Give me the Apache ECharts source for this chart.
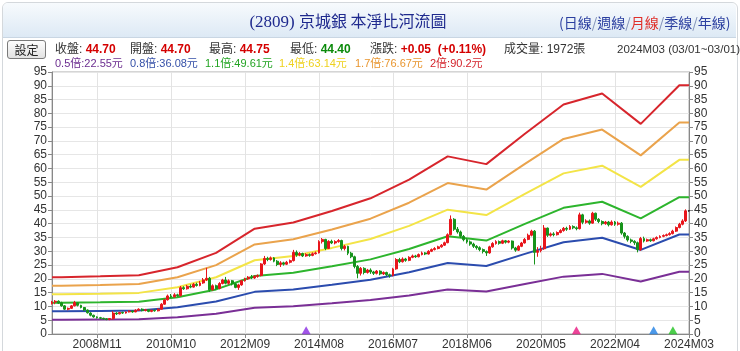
<!DOCTYPE html>
<html>
<head>
<meta charset="utf-8">
<script src="https://cdn.jsdelivr.net/npm/echarts@6/dist/echarts.min.js"></script>
<style>
body { margin: 0; background: #fff; font-family: "Liberation Sans", "Noto Sans CJK TC", sans-serif; }
#wrap { position: relative; width: 740px; height: 351px; overflow: hidden; }
#frame { position: absolute; left: 2px; top: 2px; width: 734px; height: 360px; border: 1px solid #d4d8dc; border-radius: 6px 6px 0 0; }
#head { position: absolute; left: 3px; top: 3px; width: 733px; height: 34px; border-bottom: 1px solid #c9d6e3;
    border-radius: 5px 5px 0 0; background: linear-gradient(#f7fafd, #dde9f5); }
#title { position: absolute; left: 0; width: 696px; top: 9px; text-align: center; font-size: 17px; line-height: 22px; color: #1f2a8e;
    font-family: "Liberation Serif", "Noto Sans CJK TC", serif; white-space: nowrap; }
#title .cjk { font-family: "Noto Sans CJK TC", sans-serif; font-size: 16px; }
#links { position: absolute; left: 556px; top: 9px; font-size: 14px; color: #2b3fa0; white-space: nowrap; font-family: "Noto Sans CJK TC", sans-serif; }
#links .cur { color: #e0302a; }
#links .sep { color: #8090b8; }
#btn { position: absolute; left: 7px; top: 40px; width: 37px; height: 17px; border: 1px solid #7a7a7a; border-radius: 3px;
    background: linear-gradient(#fdfdfd, #e2e2e2); font-size: 12px; line-height: 17px; text-align: center; color: #222; font-family: "Noto Sans CJK TC", sans-serif; }
.q { position: absolute; top: 41px; font-size: 12px; line-height: 16px; color: #333; white-space: nowrap; }
.q b { color: #d40000; }
.q b.dn { color: #0a8a0a; }
.lg { position: absolute; top: 56px; font-size: 11px; line-height: 14px; white-space: nowrap; }
#main { position: absolute; left: 0; top: 0; width: 740px; height: 351px; }
</style>
</head>
<body>
<div id="wrap">
    <div id="main"></div>
    <div id="frame"></div>
    <div id="head">
        <div id="links">(日線<span class="sep">/</span>週線<span class="sep">/</span><span class="cur">月線</span><span class="sep">/</span>季線<span class="sep">/</span>年線)</div>
    </div>
    <div id="title">(2809) <span class="cjk">京城銀 本淨比河流圖</span></div>
    <div id="btn">設定</div>
    <div class="q" style="left:55px">收盤: <b>44.70</b></div>
    <div class="q" style="left:130px">開盤: <b>44.70</b></div>
    <div class="q" style="left:209px">最高: <b>44.75</b></div>
    <div class="q" style="left:290px">最低: <b class="dn">44.40</b></div>
    <div class="q" style="left:370px">漲跌: <b>+0.05&nbsp; (+0.11%)</b></div>
    <div class="q" style="left:504px">成交量: 1972張</div>
    <div class="q" style="left:617px;font-size:11.5px">2024M03 (03/01~03/01)</div>
    <div id="legend"></div>
</div>
<script>
// monthly candles, 2007M09 .. 2024M03
const startYear = 2007, startMonth = 9, monthCount = 199;

const opens = [
    11.0, 11.6, 11.9, 11.3,
    10.2, 9.0, 9.3, 10.2, 11.3, 10.4, 9.6, 8.7, 7.6, 6.8, 6.2, 5.9,
    5.7, 5.5, 5.3, 5.6, 7.6, 7.3, 7.8, 7.6, 8.0, 8.3, 8.0, 8.6,
    9.0, 8.5, 8.8, 8.2, 8.6, 8.4, 9.0, 10.8, 12.4, 13.8, 13.5, 14.2,
    13.9, 16.8, 16.4, 17.3, 17.0, 18.0, 17.6, 18.5, 19.6, 20.2, 16.0, 17.5,
    16.5, 18.3, 19.6, 18.4, 19.3, 18.2, 16.9, 17.8, 19.3, 20.0, 20.6, 20.3,
    20.9, 21.2, 25.4, 27.4, 27.0, 27.6, 26.4, 25.2, 25.8, 25.3, 26.0, 26.6,
    29.6, 28.6, 29.2, 28.3, 28.8, 28.5, 29.1, 29.4, 33.5, 34.3, 31.0, 33.6,
    33.0, 33.5, 33.9, 31.0, 31.8, 29.3, 28.0, 24.5, 22.0, 23.8, 22.3, 23.2,
    22.5, 22.0, 22.8, 21.8, 22.3, 21.5, 21.2, 23.6, 27.0, 26.2, 27.2, 26.7,
    27.8, 28.3, 28.0, 28.8, 29.4, 29.0, 30.0, 30.6, 31.0, 31.6, 32.2, 33.1,
    36.0, 41.6, 38.0, 37.0, 35.4, 34.2, 33.4, 32.6, 31.8, 31.3, 30.6, 29.9,
    29.4, 31.6, 32.8, 33.5, 32.9, 33.8, 33.3, 33.7, 31.2, 30.4, 31.8, 33.0,
    34.3, 35.8, 37.3, 29.6, 30.2, 30.9, 38.4, 35.8, 36.3, 36.0, 36.8, 37.5,
    38.3, 38.0, 39.0, 38.5, 38.2, 43.2, 40.5, 41.0, 40.2, 43.8, 41.6, 40.8,
    40.0, 40.6, 39.6, 40.6, 39.8, 40.2, 36.6, 35.4, 34.1, 33.6, 33.1, 30.6,
    34.6, 33.7, 34.2, 33.8, 34.5, 35.0, 35.4, 35.7, 36.0, 36.4, 37.3, 38.6,
    39.8, 41.0, 44.7
];
const closes = [
    11.6, 11.9, 11.2, 10.2,
    9.0, 9.3, 10.2, 11.4, 10.4, 9.6, 8.7, 7.7, 6.8, 6.2, 5.9, 5.7,
    5.5, 5.3, 5.6, 7.6, 7.3, 7.8, 7.6, 8.0, 8.3, 8.0, 8.6, 9.0,
    8.5, 8.8, 8.2, 8.6, 8.4, 9.0, 10.8, 12.4, 13.8, 13.5, 14.2, 13.9,
    16.8, 16.4, 17.3, 17.0, 18.0, 17.6, 18.5, 19.6, 20.2, 16.0, 17.5, 16.5,
    18.3, 19.6, 18.4, 19.3, 18.2, 16.9, 17.8, 19.3, 20.0, 20.6, 20.3, 20.9,
    21.2, 25.4, 27.4, 27.0, 27.6, 26.4, 25.2, 25.8, 25.3, 26.0, 26.6, 29.6,
    28.6, 29.2, 28.3, 28.8, 28.5, 29.1, 29.4, 33.5, 34.3, 31.0, 33.6, 33.0,
    33.5, 33.9, 31.0, 31.8, 29.3, 28.0, 24.5, 22.0, 23.8, 22.3, 23.2, 22.5,
    22.0, 22.8, 21.8, 22.3, 21.5, 21.2, 23.6, 27.0, 26.2, 27.2, 26.7, 27.8,
    28.3, 28.0, 28.8, 29.4, 29.0, 30.0, 30.6, 31.0, 31.6, 32.2, 33.1, 36.0,
    41.6, 38.0, 37.0, 35.4, 34.2, 33.4, 32.6, 31.8, 31.3, 30.6, 29.9, 29.4,
    31.6, 32.8, 33.5, 32.9, 33.8, 33.3, 33.7, 31.2, 30.4, 31.8, 33.0, 34.3,
    35.8, 37.3, 29.6, 30.2, 30.9, 38.4, 35.8, 36.3, 36.0, 36.8, 37.5, 38.3,
    38.0, 39.0, 38.5, 38.2, 43.2, 40.5, 41.0, 40.2, 43.8, 41.6, 40.8, 40.0,
    40.6, 39.6, 40.6, 39.8, 40.2, 36.6, 35.4, 34.1, 33.6, 33.1, 30.6, 34.6,
    33.7, 34.2, 33.8, 34.5, 35.0, 35.4, 35.7, 36.0, 36.4, 37.3, 38.6, 39.8,
    41.0, 44.65, 44.7
];
const lows = [
    10.7, 10.8, 10.9, 9.9,
    8.7, 8.6, 9.1, 10.0, 10.0, 9.3, 8.4, 7.4, 6.4, 5.9, 5.6, 5.4,
    5.2, 5.0, 5.0, 5.1, 6.9, 7.1, 7.3, 7.4, 7.8, 7.7, 7.9, 8.4,
    8.2, 8.2, 7.9, 7.9, 8.1, 8.2, 8.9, 10.6, 12.1, 13.1, 13.2, 13.5,
    13.6, 16.0, 16.1, 16.6, 16.8, 17.2, 17.3, 18.2, 19.2, 15.3, 15.8, 16.0,
    16.2, 18.0, 18.0, 17.9, 17.6, 16.6, 16.0, 17.5, 19.0, 19.6, 19.9, 20.0,
    20.4, 20.9, 25.0, 26.4, 26.6, 26.0, 24.6, 24.3, 24.8, 25.0, 25.6, 26.3,
    28.0, 28.2, 27.9, 28.0, 28.0, 28.2, 28.8, 29.2, 32.8, 30.4, 30.8, 32.6,
    32.5, 33.1, 30.3, 30.3, 28.6, 27.5, 23.8, 20.2, 21.2, 21.6, 21.9, 21.8,
    21.4, 21.6, 21.3, 21.4, 20.9, 20.4, 20.9, 23.3, 25.7, 25.9, 26.2, 26.4,
    27.5, 27.6, 27.8, 28.5, 28.6, 28.8, 29.7, 30.3, 30.7, 31.3, 31.9, 32.9,
    35.8, 37.4, 36.4, 34.8, 33.6, 32.8, 32.0, 31.2, 30.6, 30.0, 29.2, 28.3,
    29.1, 31.3, 32.4, 32.4, 32.6, 32.8, 32.9, 30.6, 29.8, 30.1, 31.5, 32.8,
    34.0, 35.4, 25.2, 28.0, 29.6, 30.5, 35.2, 35.3, 35.4, 35.7, 36.5, 37.1,
    37.4, 37.7, 38.0, 37.6, 37.9, 39.8, 40.0, 39.6, 40.0, 41.0, 40.2, 39.4,
    39.6, 39.0, 39.3, 39.2, 39.3, 36.0, 34.6, 33.5, 32.9, 32.3, 29.6, 30.2,
    33.2, 33.4, 33.4, 33.6, 34.2, 34.7, 35.1, 35.4, 35.7, 36.1, 37.0, 38.3,
    39.4, 40.6, 44.4
];
const highs = [
    12.0, 12.3, 12.2, 11.7,
    10.5, 9.6, 10.5, 12.0, 11.6, 10.6, 9.8, 8.9, 7.9, 7.0, 6.4, 6.2,
    5.9, 5.7, 5.8, 8.3, 7.9, 8.0, 8.1, 8.2, 8.6, 8.5, 9.0, 9.3,
    9.3, 9.1, 9.0, 8.8, 8.9, 9.3, 11.2, 12.8, 14.3, 14.5, 14.8, 14.6,
    17.4, 17.3, 17.8, 18.0, 18.5, 18.6, 19.2, 20.3, 24.0, 20.7, 18.0, 17.9,
    18.8, 20.0, 20.7, 19.8, 19.6, 18.5, 18.2, 19.6, 20.4, 21.0, 21.4, 21.3,
    21.6, 25.7, 28.3, 28.0, 28.1, 27.9, 26.8, 26.4, 26.2, 26.5, 27.0, 30.5,
    30.3, 29.7, 29.5, 29.3, 29.2, 29.6, 29.9, 34.0, 34.8, 34.5, 34.0, 34.2,
    34.0, 34.4, 34.2, 32.3, 32.0, 29.8, 28.4, 25.0, 24.3, 24.2, 23.6, 23.8,
    22.9, 23.2, 23.1, 22.7, 22.6, 21.9, 24.0, 27.5, 27.6, 27.8, 27.6, 28.2,
    28.8, 28.7, 29.2, 29.9, 29.7, 30.4, 31.0, 31.5, 32.0, 32.6, 33.5, 36.5,
    43.0, 42.0, 38.8, 37.5, 35.9, 34.7, 33.9, 33.1, 32.2, 31.8, 31.0, 30.3,
    32.0, 33.3, 34.0, 33.9, 34.2, 34.1, 34.0, 33.9, 31.6, 32.2, 33.4, 34.8,
    36.4, 37.8, 37.7, 31.5, 32.0, 39.5, 38.6, 36.8, 36.9, 37.2, 38.0, 38.8,
    38.9, 39.5, 39.4, 39.0, 44.0, 43.6, 41.6, 41.5, 44.3, 44.0, 42.0, 41.2,
    41.0, 41.0, 41.2, 41.0, 40.8, 40.6, 37.0, 35.8, 34.6, 34.0, 33.5, 35.2,
    35.3, 34.6, 34.6, 34.9, 35.4, 35.8, 36.1, 36.4, 36.9, 37.8, 39.0, 40.3,
    41.6, 45.2, 44.75
];

// book value per share at year ends (river vertices)
const bvpsMonths = ['2007M09', '2007M12', '2008M12', '2009M12', '2010M12', '2011M12', '2012M12', '2013M12', '2014M12',
    '2015M12', '2016M12', '2017M12', '2018M12', '2019M12', '2020M12', '2021M12', '2022M12', '2023M12', '2024M03'];
const bvps = [10.3, 10.3, 10.45, 10.65, 12.1, 14.7, 19.1, 20.2, 22.3, 24.6, 28.0, 32.2, 30.8, 36.3, 41.6, 43.6, 38.1, 45.1, 45.1];
const multiples = [0.5, 0.8, 1.1, 1.4, 1.7, 2];
const multipleNames = ['0.5倍', '0.8倍', '1.1倍', '1.4倍', '1.7倍', '2倍'];

// event markers on the bottom
const markerMonths = ['2014M04', '2021M04', '2023M04', '2023M10'];

const riverColors = ['#7a2f96', '#2b4cae', '#2db52d', '#f3e447', '#eaa34c', '#d7252c'];
const legendColors = ['#6b2d8f', '#3550a8', '#22a322', '#eed11e', '#e8952e', '#d3222a'];
const markerColors = ['#8a2be2', '#e8157f', '#1f7fe3', '#1fc21f'];
const legendLeft = [55, 130, 205, 279, 355, 430];

let months = [];
for (let i = 0; i < monthCount; i++) {
    let m = startMonth - 1 + i;
    let y = startYear + Math.floor(m / 12);
    let mm = (m % 12) + 1;
    months.push(y + 'M' + (mm < 10 ? '0' + mm : mm));
}

let last = bvps[bvps.length - 1];
let legendHtml = '';
multiples.forEach(function(m, i) {
    let v = Math.round(last * m * 100) / 100;
    legendHtml += '<div class="lg" style="left:' + legendLeft[i] + 'px;color:' + legendColors[i] + '">' +
        multipleNames[i] + ':' + v + '元</div>';
});
document.getElementById('legend').innerHTML = legendHtml;

let showLabel = function(idx) {
    return (monthCount - 1 - idx) % 23 === 0;
};

let candles = opens.map(function(o, i) {
    return [o, closes[i], lows[i], highs[i]];
});

let series = multiples.map(function(m, i) {
    return {
        type: 'line',
        showSymbol: false,
        silent: true,
        z: 1,
        lineStyle: { color: riverColors[i], width: 2 },
        data: bvpsMonths.map(function(d, j) {
            return [d, Math.round(bvps[j] * m * 1000) / 1000];
        })
    };
});
series.push({
    type: 'candlestick',
    z: 3,
    barWidth: 2.4,
    itemStyle: {
        color: '#e8151b',
        color0: '#16931a',
        borderColor: '#e8151b',
        borderColor0: '#16931a',
        borderColorDoji: '#000',
        borderWidth: 1
    },
    data: candles
});
series.push({
    type: 'scatter',
    symbol: 'triangle',
    symbolSize: [9, 8],
    z: 4,
    data: markerMonths.map(function(d, i) {
        return { value: [d, 1.4], itemStyle: { color: markerColors[i] } };
    })
});

let chart = echarts.init(document.getElementById('main'));
let axisFont = { color: '#333', fontSize: 12, fontFamily: 'Liberation Sans' };
let yAxisBase = {
    type: 'value',
    min: 0,
    max: 95,
    interval: 5,
    axisLine: { show: true, lineStyle: { color: '#888' } },
    axisTick: { show: true, length: 4, lineStyle: { color: '#888' } },
    axisLabel: Object.assign({ margin: 5 }, axisFont)
};
let option = {
    animation: false,
    grid: { left: 52, right: 51, top: 72, bottom: 17, show: true, borderColor: '#aaa', borderWidth: 1 },
    xAxis: {
        type: 'category',
        data: months,
        boundaryGap: false,
        axisLine: { lineStyle: { color: '#888' } },
        axisTick: { show: true, interval: showLabel, length: 4, lineStyle: { color: '#888' } },
        axisLabel: Object.assign({ interval: showLabel, margin: 5 }, axisFont),
        splitLine: { show: true, interval: showLabel, lineStyle: { color: '#e3e3e3' } }
    },
    yAxis: [
        Object.assign({ position: 'left', splitLine: { show: true, lineStyle: { color: '#e6e6e6' } } }, yAxisBase),
        Object.assign({ position: 'right', splitLine: { show: false } }, yAxisBase)
    ],
    series: series
};
chart.setOption(option);
</script>
</body>
</html>
